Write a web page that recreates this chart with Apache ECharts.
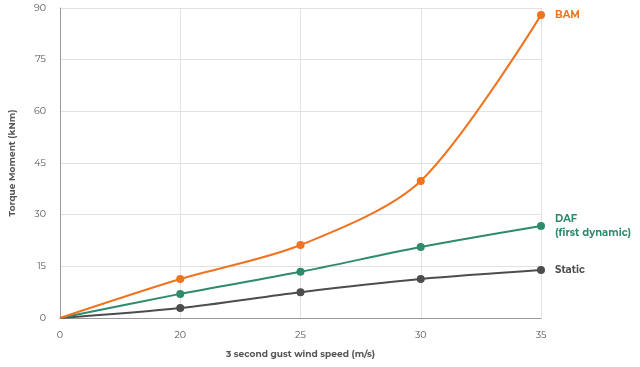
<!DOCTYPE html>
<html><head><meta charset="utf-8">
<script src="https://cdn.jsdelivr.net/npm/echarts@6/dist/echarts.min.js"></script>
<style>html,body{margin:0;padding:0;background:#fff}#c{width:640px;height:367px}</style>
</head><body><div id="c"></div>
<script>
const categories = ['0', '20', '25', '30', '35'];
const bam = [0, 11.3, 21.2, 39.8, 88];
const daf = [0, 7.0, 13.4, 20.6, 26.7];
const stat = [0, 2.9, 7.5, 11.3, 13.9];
const yTicks = [0, 15, 30, 45, 60, 75, 90];

const font = 'Montserrat, "Open Sans", "DejaVu Sans", sans-serif';
function mk(name, values, color, label) {
  return {
    name, type: 'line', smooth: 0.3,
    data: values.map((v, i) => i === 0 ? {value: v, symbol: 'none'} : {value: v,
      label: i === values.length - 1 ? {show: true, position: 'right', distance: 10, formatter: label, color, fontWeight: 'bold', fontSize: 10, fontFamily: font, align: 'left', lineHeight: 14} : {show: false}}),
    symbol: 'circle', symbolSize: 8, lineStyle: {color, width: 2}, itemStyle: {color},
    z: 3
  };
}
const chart = echarts.init(document.getElementById('c'), null, {renderer: 'canvas'});
chart.setOption({
  animation: false,
  grid: {left: 60, right: 99, top: 8, bottom: 49, containLabel: false, outerBoundsMode: 'none'},
  xAxis: {
    type: 'category', data: categories, boundaryGap: false,
    name: '3 second gust wind speed (m/s)', nameLocation: 'middle', nameGap: 32,
    nameTextStyle: {color: '#555', fontSize: 9, fontWeight: 'bold', fontFamily: font},
    axisLine: {lineStyle: {color: '#999'}}, axisTick: {show: false},
    axisLabel: {color: '#555', fontSize: 9.5, margin: 12, fontFamily: font},
    splitLine: {show: true, lineStyle: {color: '#e2e2e2'}}
  },
  yAxis: {
    type: 'value', min: 0, max: 90, interval: 15,
    name: 'Torque Moment (kNm)', nameLocation: 'middle', nameGap: 43,
    nameTextStyle: {color: '#555', fontSize: 9, fontWeight: 'bold', fontFamily: font},
    axisLine: {show: true, lineStyle: {color: '#999'}}, axisTick: {show: false},
    axisLabel: {color: '#555', fontSize: 9.5, margin: 14, fontFamily: font, formatter: v => yTicks.includes(v) ? String(v) : ''},
    splitLine: {show: true, lineStyle: {color: '#e2e2e2'}}
  },
  series: [
    mk('Static', stat, '#4d4d4d', 'Static'),
    mk('DAF', daf, '#2e8b6b', 'DAF\n(first dynamic)'),
    mk('BAM', bam, '#f07320', 'BAM')
  ]
});
</script></body></html>
